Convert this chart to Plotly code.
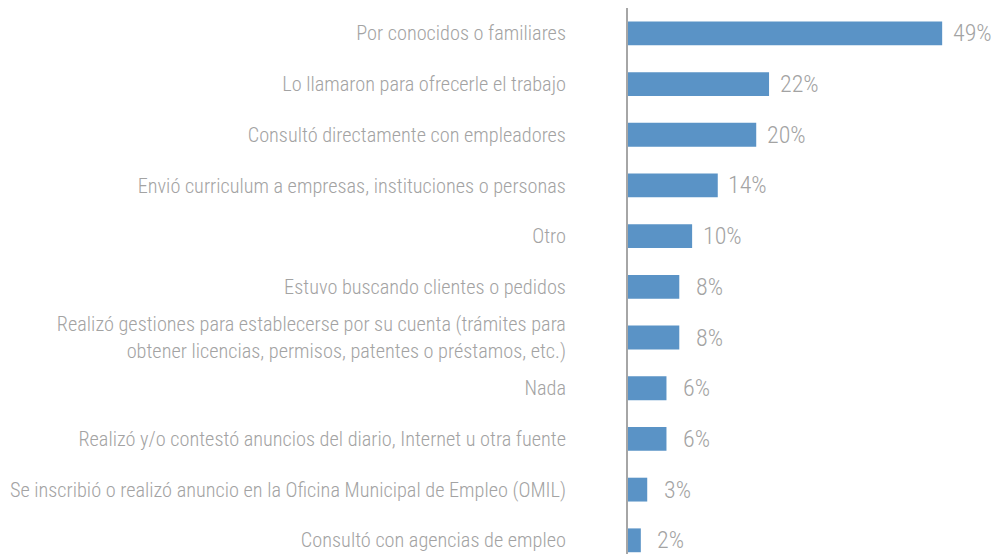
import plotly.graph_objects as go

categories = [
    "Por conocidos o familiares",
    "Lo llamaron para ofrecerle el trabajo",
    "Consultó directamente con empleadores",
    "Envió curriculum a empresas, instituciones o personas",
    "Otro",
    "Estuvo buscando clientes o pedidos",
    "Realizó gestiones para establecerse por su cuenta (trámites para<br>obtener licencias, permisos, patentes o préstamos, etc.)",
    "Nada",
    "Realizó y/o contestó anuncios del diario, Internet u otra fuente",
    "Se inscribió o realizó anuncio en la Oficina Municipal de Empleo (OMIL)",
    "Consultó con agencias de empleo",
]
values = [49, 22, 20, 14, 10, 8, 8, 6, 6, 3, 2]

FONT = "Liberation Sans Narrow, Arial Narrow, Roboto Condensed, sans-serif"
TEXT_GRAY = "#A3A3A3"
BAR_BLUE = "#5A93C6"

positions = list(range(len(categories)))

fig = go.Figure(
    go.Bar(
        x=values,
        y=positions,
        orientation="h",
        width=0.47,
        marker=dict(color=BAR_BLUE, line=dict(width=0)),
        hoverinfo="skip",
    )
)

# value labels centred a fixed distance past each bar end
for pos, val in zip(positions, values):
    fig.add_annotation(
        x=val, y=pos, text=f"{val}%", showarrow=False,
        xanchor="center", yanchor="middle", xshift=30,
        font=dict(family=FONT, size=24, color=TEXT_GRAY, weight=300),
    )

fig.update_layout(
    width=1005, height=554,
    margin=dict(l=628, r=0, t=8, b=0),
    paper_bgcolor="white", plot_bgcolor="white",
    showlegend=False,
    font=dict(family=FONT, size=20.3, color=TEXT_GRAY, weight=300),
)
fig.update_xaxes(range=[0, 58.8], visible=False, fixedrange=True)
fig.update_yaxes(
    range=[10.27, -0.5],
    tickvals=positions, ticktext=categories,
    showline=True, linecolor="#A6A6A6", linewidth=2,
    showgrid=False, zeroline=False, ticks="",
    ticklabelstandoff=56,
    tickfont=dict(family=FONT, size=20.3, color=TEXT_GRAY, weight=300),
    fixedrange=True,
)

fig.write_html("out.html")
